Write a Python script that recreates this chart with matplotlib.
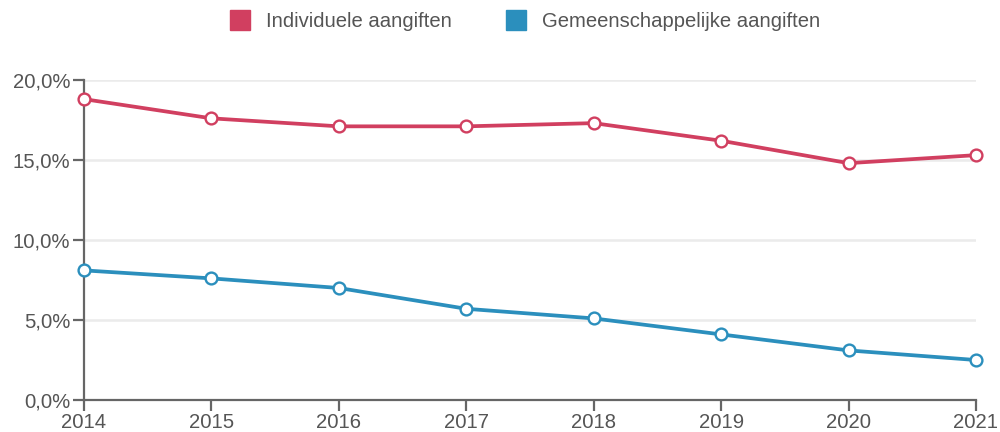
import matplotlib
matplotlib.use('Agg')
import matplotlib.pyplot as plt
from matplotlib.lines import Line2D
from matplotlib.ticker import FuncFormatter

plt.rcParams['font.family'] = ['Liberation Sans', 'DejaVu Sans']

years = [2014, 2015, 2016, 2017, 2018, 2019, 2020, 2021]
individueel = [18.8, 17.6, 17.1, 17.1, 17.3, 16.2, 14.8, 15.3]
gemeenschappelijk = [8.1, 7.6, 7.0, 5.7, 5.1, 4.1, 3.1, 2.5]
series_names = ['Individuele aangiften', 'Gemeenschappelijke aangiften']
colors = ['#d13f60', '#2b8fbd']

text_color = '#555555'
axis_color = '#666666'

fig = plt.figure(figsize=(10, 4.32), dpi=100)
ax = fig.add_axes([0.084, 0.074, 0.892, 0.741])

for vals, c in zip([individueel, gemeenschappelijk], colors):
    ax.plot(years, vals, color=c, lw=2.7, marker='o', ms=8.5,
            mfc='white', mec=c, mew=1.7, zorder=3, clip_on=False)

ax.set_xlim(years[0], years[-1])
ax.set_ylim(0, 20)
ax.set_xticks(years)
ax.set_yticks([0, 5, 10, 15, 20])
ax.yaxis.set_major_formatter(FuncFormatter(lambda v, p: f'{v:.1f}%'.replace('.', ',')))
ax.grid(axis='y', color='#ebebeb', lw=1.8, zorder=0)

for side in ['top', 'right']:
    ax.spines[side].set_visible(False)
for side in ['left', 'bottom']:
    ax.spines[side].set_color(axis_color)
    ax.spines[side].set_linewidth(1.6)
ax.tick_params(colors=axis_color, width=1.6, length=8, labelsize=14.6,
               labelcolor=text_color, pad=2)
ax.tick_params(axis='x', pad=1)

handles = [Line2D([], [], ls='none', marker='s', ms=15, mfc=c, mec=c) for c in colors]
fig.legend(handles, series_names, loc='upper center', bbox_to_anchor=(0.52, 1.015),
           ncol=2, frameon=False, fontsize=14.6, labelcolor=text_color,
           handletextpad=0.25, columnspacing=2.2)

fig.savefig('out.png', dpi=100, facecolor='white')
